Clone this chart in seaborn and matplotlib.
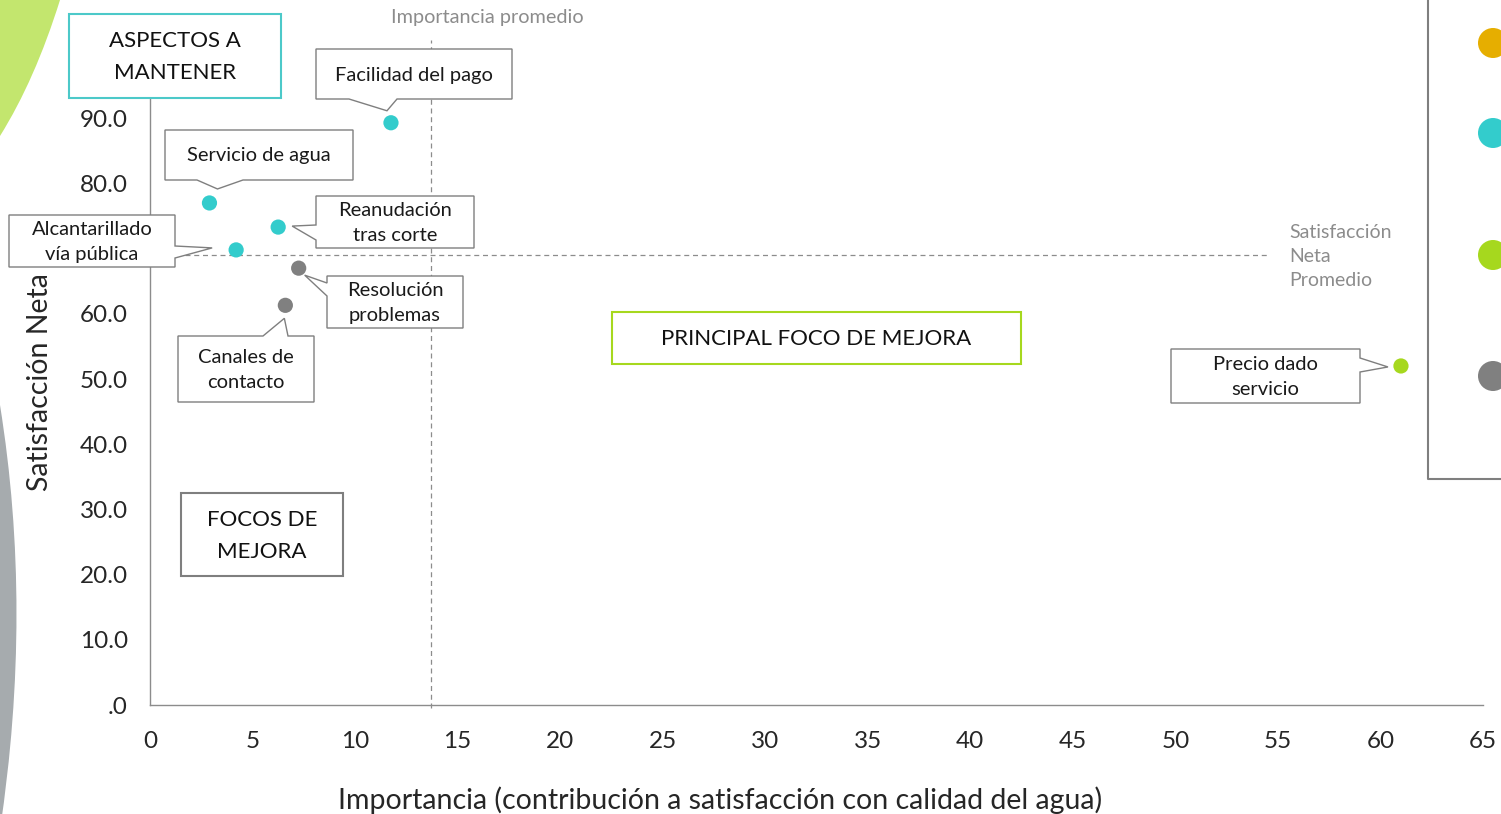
import matplotlib
matplotlib.use("Agg")
import matplotlib.pyplot as plt
import seaborn as sns
import pandas as pd
from matplotlib.patches import Polygon, Rectangle, PathPatch, Circle
from matplotlib.path import Path
from matplotlib.ticker import FuncFormatter, FixedLocator

# ---------------- data ----------------
aspectos = ["Facilidad del pago", "Servicio de agua", "Reanudación\ntras corte",
            "Alcantarillado\nvía pública", "Resolución\nproblemas",
            "Canales de\ncontacto", "Precio dado\nservicio"]
importancia = [11.75, 2.9, 6.25, 4.2, 7.25, 6.6, 61.0]
satisfaccion = [89.3, 77.0, 73.3, 69.8, 67.0, 61.3, 52.0]
grupo = ["Servicio", "Servicio", "Servicio", "Servicio", "Atención", "Atención", "Precio"]
grupos_leyenda = ["Otros", "Servicio", "Precio", "Atención"]
colores = {"Otros": "#E6AE00", "Servicio": "#33CCCC", "Precio": "#A6D81E", "Atención": "#808080"}
importancia_promedio = 13.7
satisfaccion_promedio = 69.0
x_ticks = list(range(0, 70, 5))
y_ticks = list(range(0, 101, 10))

W, H = 1501, 814
sns.set_theme(style="white")
plt.rcParams['font.family'] = ['Lato', 'DejaVu Sans']

fig = plt.figure(figsize=(W / 100, H / 100), dpi=100)
fig.patch.set_facecolor("white")
ax = fig.add_axes([150 / W, 1 - 705 / H, (1483 - 150) / W, (705 - 53) / H])

df = pd.DataFrame({"importancia": importancia, "satisfaccion": satisfaccion, "grupo": grupo})
sns.scatterplot(data=df, x="importancia", y="satisfaccion", hue="grupo", palette=colores,
                s=120, edgecolor="none", legend=False, ax=ax, zorder=5, clip_on=False)
ax.set_xlim(0, 65)
ax.set_ylim(0, 100)
ax.xaxis.set_major_locator(FixedLocator(x_ticks))
ax.yaxis.set_major_locator(FixedLocator(y_ticks))
ax.yaxis.set_major_formatter(FuncFormatter(lambda v, p: ".0" if v == 0 else f"{v:.1f}"))
ax.tick_params(axis="both", length=0, labelsize=17.5, colors="#262626")
ax.tick_params(axis="y", pad=16)
ax.tick_params(axis="x", pad=18.5)
for s in ["top", "right"]:
    ax.spines[s].set_visible(False)
for s in ["left", "bottom"]:
    ax.spines[s].set_color("#8C8C8C")
    ax.spines[s].set_linewidth(1.0)
ax.set_facecolor("none")
ax.set_xlabel("Importancia (contribución a satisfacción con calidad del agua)", fontsize=20.5,
              color="#262626", labelpad=0, va="center")
ax.xaxis.set_label_coords(0.428, -0.146)
ax.set_ylabel("Satisfacción Neta", fontsize=20.5, color="#262626", va="center")
ax.yaxis.set_label_coords(-0.0825, 0.495)

# reference lines
ax.plot([importancia_promedio, importancia_promedio], [-0.5, 102], ls=(0, (4, 3)),
        color="#8C8C8C", lw=0.9, clip_on=False, zorder=2)
ax.plot([0, 54.6], [satisfaccion_promedio, satisfaccion_promedio], ls=(0, (4, 3)),
        color="#8C8C8C", lw=0.9, clip_on=False, zorder=2)

# ---------------- overlay (pixel coordinates) ----------------
ov = fig.add_axes([0, 0, 1, 1], zorder=10)
ov.set_xlim(0, W)
ov.set_ylim(H, 0)
ov.axis("off")
ov.patch.set_alpha(0)


def px(xd, yd):
    X, Y = ax.transData.transform((xd, yd))
    return X, H - Y


# decorative shapes
green = Path([(0, 0), (60, 0), (35, 80), (0, 136), (0, 0)],
             [Path.MOVETO, Path.LINETO, Path.CURVE3, Path.CURVE3, Path.CLOSEPOLY])
ov.add_patch(PathPatch(green, facecolor="#C3E66E", edgecolor="none"))
grey = Path([(0, 405), (33, 610), (0, 830), (0, 405)],
            [Path.MOVETO, Path.CURVE3, Path.CURVE3, Path.CLOSEPOLY])
ov.add_patch(PathPatch(grey, facecolor="#A6ABAE", edgecolor="none"))

# callouts: box, side, wedge base, tip offset from point
callouts = [
    ((316, 49, 512, 99), "bottom", (349, 397), (-4, -12)),
    ((165, 130, 353, 180), "bottom", (197, 243), (8, -14)),
    ((316, 196, 474, 248), "left", (225, 240), (14, -1)),
    ((9, 215, 175, 267), "right", (246, 258), (-24, -2)),
    ((327, 276, 463, 328), "left", (283, 296), (6, 7)),
    ((178, 336, 314, 402), "top", (263, 288), (-1, 13)),
    ((1171, 349, 1360, 403), "right", (358, 372), (-13, 1)),
]
for lab, xi, yi, (box, side, (a, b), (dx, dy)) in zip(aspectos, importancia, satisfaccion, callouts):
    x0, y0, x1, y1 = box
    PX, PY = px(xi, yi)
    tip = (PX + dx, PY + dy)
    if side == "bottom":
        verts = [(x0, y0), (x1, y0), (x1, y1), (b, y1), tip, (a, y1), (x0, y1)]
    elif side == "top":
        verts = [(x0, y0), (a, y0), tip, (b, y0), (x1, y0), (x1, y1), (x0, y1)]
    elif side == "left":
        verts = [(x0, y0), (x1, y0), (x1, y1), (x0, y1), (x0, b), tip, (x0, a)]
    else:
        verts = [(x0, y0), (x1, y0), (x1, a), tip, (x1, b), (x1, y1), (x0, y1)]
    ov.add_patch(Polygon(verts, closed=True, facecolor="white", edgecolor="#7F7F7F", lw=1.0))
    ov.text((x0 + x1) / 2, (y0 + y1) / 2 + 1, lab, ha="center", va="center", fontsize=14.5,
            color="#1A1A1A", linespacing=1.55)

# quadrant boxes
quad = [
    ((69, 14, 281, 98), "#4CC9C9", "ASPECTOS A\nMANTENER"),
    ((181, 493, 343, 576), "#7F7F7F", "FOCOS DE\nMEJORA"),
    ((612, 312, 1021, 364), "#A6D81E", "PRINCIPAL FOCO DE MEJORA"),
]
for (x0, y0, x1, y1), ec, txt in quad:
    ov.add_patch(Rectangle((x0, y0), x1 - x0, y1 - y0, facecolor="white", edgecolor=ec, lw=1.5))
    ov.text((x0 + x1) / 2, (y0 + y1) / 2 + 1, txt, ha="center", va="center", fontsize=16,
            color="#111111", linespacing=1.75)

# reference line labels
ov.text(487, 18, "Importancia promedio", ha="center", va="center", fontsize=14.3, color="#8C8C8C")
ov.text(1289, 257, "Satisfacción\nNeta\nPromedio", ha="left", va="center", fontsize=14,
        color="#8C8C8C", linespacing=1.5)

# legend box (cut off at right edge)
ov.plot([1428, 1428, 1510], [-5, 479, 479], color="#7F7F7F", lw=1.5, clip_on=False)
for g, yy in zip(grupos_leyenda, [43, 133, 255, 376]):
    ov.add_patch(Circle((1493, yy), 15, facecolor=colores[g], edgecolor="none", clip_on=False))

fig.savefig("out.png", dpi=100)
